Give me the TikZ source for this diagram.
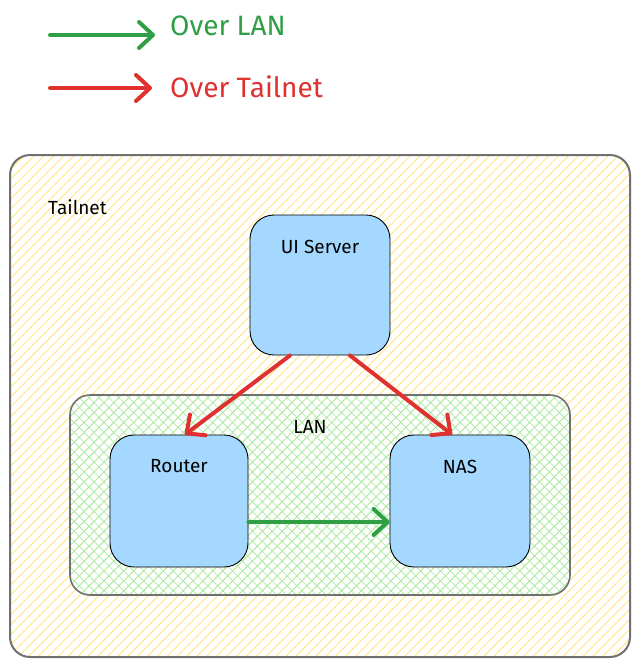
\documentclass[tikz,border=0pt]{standalone}
\usepackage{fontspec}
\setmainfont{Fira Sans}
\usetikzlibrary{arrows.meta,patterns.meta}
\definecolor{hatch-yellow}{HTML}{FFE78A}
\definecolor{hatch-green}{HTML}{A8EDB2}
\definecolor{host-blue}{HTML}{A5D8FF}
\definecolor{frame-gray}{HTML}{707070}
\definecolor{lan-green}{HTML}{2F9E44}
\definecolor{net-red}{HTML}{E03131}
\begin{document}
\begin{tikzpicture}[x=1pt,y=-1pt,font=\fontsize{19}{22}\selectfont,
		host/.style={draw=black,line width=0.9pt,fill=host-blue,rounded corners=24pt,inner sep=0pt},
		hostname/.style={inner sep=0pt,below=25pt},
		lanarrow/.style={draw=lan-green,line width=4pt,line cap=round,-{Straight Barb[length=14pt,width=26pt,round]}},
		netarrow/.style={draw=net-red,line width=4pt,line cap=round,-{Straight Barb[length=14pt,width=26pt,round]}},
		keytext/.style={font=\fontsize{28}{32}\selectfont,anchor=west,inner sep=0pt}]
			\useasboundingbox (0,0) rectangle (640,665);							% page
			\draw [frame-gray,line width=2pt,rounded corners=20pt,pattern={Lines[angle=45,distance=7pt,line width=1pt]},pattern color=hatch-yellow] (10,155) rectangle (630,657);	% tailnet
			\node [anchor=west,inner sep=0pt] (tailnet) at (48,207) {Tailnet};		% tailnet label
			\draw [frame-gray,line width=1.6pt,rounded corners=20pt,pattern={Hatch[angle=45,distance=7pt,line width=0.8pt]},pattern color=hatch-green] (70,395) rectangle (570,595);	% lan
			\node [inner sep=0pt] (lan) at (310,427) {LAN};						% lan label
			\node [host,minimum width=140pt,minimum height=140pt,label={[hostname]north:UI Server}] (ui) at (320,285) {};
			\node [host,minimum width=138pt,minimum height=132pt,label={[hostname]north:Router}] (router) at (179,501) {};
			\node [host,minimum width=140pt,minimum height=132pt,label={[hostname]north:NAS}] (nas) at (460,501) {};
			\draw [netarrow] ([xshift=-30pt]ui.south) -- ([xshift=6pt]router.north);	% tailnet links
			\draw [netarrow] ([xshift=30pt]ui.south) -- ([xshift=-8pt]nas.north);
			\draw [lanarrow] ([yshift=-21pt]router.east) -- ([yshift=-21pt]nas.west);	% lan link
			\coordinate (lan-tail) at (50,35);									% legend
			\coordinate (lan-head) at (155,35);
			\coordinate (net-tail) at (50,88);
			\coordinate (net-head) at (152,88);
			\draw [lanarrow] (lan-tail) -- (lan-head);
			\draw [netarrow] (net-tail) -- (net-head);
			\node [keytext,text=lan-green] (lan-key) at (170,26) {Over LAN};
			\node [keytext,text=net-red] (net-key) at (170,87) {Over Tailnet};
		\end{tikzpicture}
\end{document}
